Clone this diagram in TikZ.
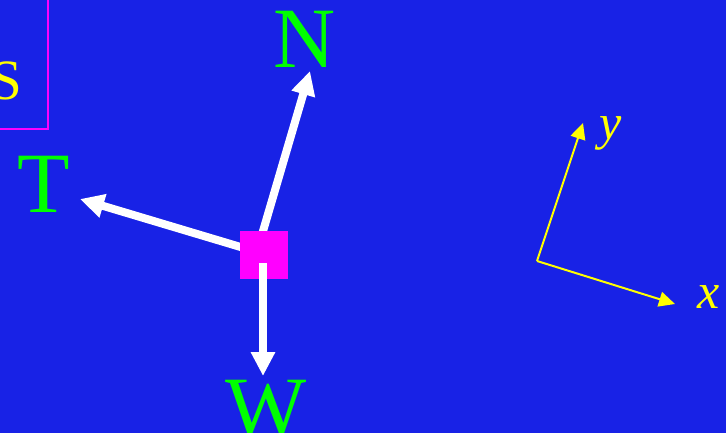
\documentclass[tikz,border=0pt]{standalone}
\usepackage{fontspec}
\setmainfont{Liberation Serif}
\usetikzlibrary{arrows.meta}
\definecolor{bg}{RGB}{24,34,230}
\definecolor{mag}{RGB}{255,0,255}
\definecolor{grn}{RGB}{0,255,0}
\definecolor{yel}{RGB}{255,255,0}
\tikzset{
  force/.style={draw=white, line width=8pt, -{Triangle[length=24pt,width=23pt]}},
  axis/.style={draw=yel, line width=2pt, -{Triangle[length=16pt,width=15pt]}},
  biglabel/.style={text=grn, anchor=base, inner sep=0pt, font=\fontsize{86}{86}\selectfont},
  axlabel/.style={text=yel, anchor=base, inner sep=0pt, font=\fontsize{50}{50}\selectfont\itshape},
}
\begin{document}
\begin{tikzpicture}[x=1pt,y=-1pt]
\fill[bg] (0,0) rectangle (726,433);
\useasboundingbox (0,0) rectangle (726,433);
% S box
\draw[mag, line width=2pt] (-5,-5) rectangle (48,129);
\node[text=yel, anchor=base, inner sep=0pt, font=\fontsize{57}{57}\selectfont] (S) at (6,100) {S};
% force arrows
\coordinate (c) at (264,255);
\coordinate (nstart) at (256,255);
\coordinate (ntip) at (310,71);
\coordinate (tstart) at (264,254);
\coordinate (ttip) at (80,199);
\coordinate (wstart) at (263,263);
\coordinate (wtip) at (263,376);
\draw[force] (nstart) -- (ntip);
\draw[force] (tstart) -- (ttip);
\node[fill=mag, minimum width=48pt, minimum height=48pt, inner sep=0pt] (box) at (c) {};
\draw[force] (wstart) -- (wtip);
\node[biglabel] (N) at (305,68) {N};
\node[biglabel] (T) at (44,212) {T};
\node[biglabel] (W) at (266,436) {W};
% axes
\coordinate (o) at (537,261);
\coordinate (ytip) at (583,123);
\coordinate (xtip) at (675,304);
\draw[axis] (o) -- (ytip);
\draw[axis] (o) -- (xtip);
\node[axlabel] (ylab) at (611,140) {y};
\node[axlabel] (xlab) at (709,308) {x};
\end{tikzpicture}
\end{document}
